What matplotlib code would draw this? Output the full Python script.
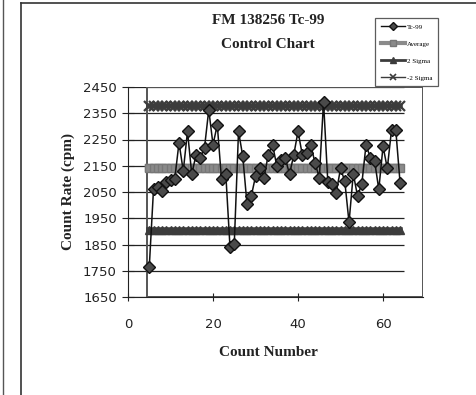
import numpy as np
import matplotlib
matplotlib.use("Agg")
import matplotlib.pyplot as plt
from matplotlib.lines import Line2D
from matplotlib.patches import Rectangle

# count numbers and count rates (cpm)
count_number = np.arange(5, 65)
count_rate = [1763, 2060, 2070, 2055, 2090, 2095, 2100, 2238, 2130, 2281,
              2117, 2192, 2180, 2219, 2363, 2230, 2306, 2098, 2120, 1839,
              1852, 2281, 2186, 2003, 2034, 2110, 2140, 2105, 2192, 2230,
              2150, 2173, 2180, 2117, 2192, 2281, 2192, 2200, 2230, 2160,
              2105, 2394, 2090, 2079, 2048, 2140, 2091, 1934, 2120, 2034,
              2080, 2230, 2181, 2170, 2060, 2224, 2140, 2287, 2286, 2086]

average = 2143
plus_2sigma = 2379
minus_2sigma = 1907

y_ticks = [1650, 1750, 1850, 1950, 2050, 2150, 2250, 2350, 2450]
x_ticks = [0, 20, 40, 60]
series_names = ["Tc-99", "Average", "2 Sigma", "-2 Sigma"]

serif = ["Liberation Serif", "DejaVu Serif"]

fig = plt.figure(figsize=(4.77, 3.95), dpi=100)
ax = fig.add_axes([128 / 477, 1 - 297 / 395, (423 - 128) / 477, (297 - 87) / 395])

ax.set_xlim(0, 69.4)
ax.set_ylim(1650, 2450)

# horizontal gridlines
ax.hlines(y_ticks, 0, 65, colors="#222222", linewidth=0.9, zorder=1)

# plot area frame (grey)
ax.add_patch(Rectangle((4.5, 1650), 69.4 - 4.5, 800, fill=False,
                       edgecolor="#555555", linewidth=1.4, zorder=1.5))

# control limits
ax.plot(count_number, np.full(len(count_number), average), color="#8a8a8a",
        linewidth=6, marker="s", markersize=6, markerfacecolor="#8a8a8a",
        markeredgecolor="#777777", zorder=2)
ax.plot(count_number, np.full(len(count_number), plus_2sigma), color="#3c3c3c",
        linewidth=4, marker="x", markersize=7, markeredgewidth=1.6,
        markeredgecolor="#3c3c3c", zorder=2)
ax.plot(count_number, np.full(len(count_number), minus_2sigma), color="#3c3c3c",
        linewidth=4, marker="^", markersize=6, markerfacecolor="#3c3c3c",
        markeredgecolor="#3c3c3c", zorder=2)

# data
ax.plot(count_number, count_rate, color="#111111", linewidth=1.1, marker="D",
        markersize=6, markerfacecolor="#4a4a4a", markeredgecolor="#111111",
        markeredgewidth=1.0, zorder=3)

for side in ["top", "right"]:
    ax.spines[side].set_visible(False)
ax.spines["left"].set_color("#222222")
ax.spines["bottom"].set_color("#222222")

ax.set_yticks(y_ticks)
ax.set_xticks(x_ticks)
ax.tick_params(axis="y", direction="inout", length=8, pad=4, labelsize=9.5, colors="#222222")
ax.tick_params(axis="x", direction="inout", length=6, pad=12, labelsize=9.5, colors="#222222")

fig.text(268 / 477, 1 - 20 / 395, "FM 138256 Tc-99", ha="center", va="center",
         fontsize=11, fontweight="bold", family=serif, color="#222222")
fig.text(268 / 477, 1 - 45 / 395, "Control Chart", ha="center", va="center",
         fontsize=11, fontweight="bold", family=serif, color="#222222")
fig.text(68 / 477, 1 - 192 / 395, "Count Rate (cpm)", ha="center", va="center",
         rotation=90, fontsize=11, fontweight="bold", family=serif, color="#222222")
fig.text(268 / 477, 1 - 352 / 395, "Count Number", ha="center", va="center",
         fontsize=11, fontweight="bold", family=serif, color="#222222")

# legend
handles = [
    Line2D([], [], color="#111111", linewidth=1.0, marker="D", markersize=4,
           markerfacecolor="#4a4a4a", markeredgecolor="#111111"),
    Line2D([], [], color="#8a8a8a", linewidth=3, marker="s", markersize=4,
           markerfacecolor="#8a8a8a", markeredgecolor="#777777"),
    Line2D([], [], color="#3c3c3c", linewidth=2, marker="^", markersize=4,
           markerfacecolor="#3c3c3c"),
    Line2D([], [], color="#3c3c3c", linewidth=1, marker="x", markersize=4,
           markeredgewidth=1.2),
]
leg = fig.legend(handles, series_names, loc="upper left",
                 bbox_to_anchor=(372 / 477, 1 - 15 / 395), frameon=True,
                 fancybox=False, edgecolor="#333333", fontsize=5,
                 prop={"family": serif, "size": 5}, handlelength=3.5,
                 labelspacing=1.6, borderpad=0.8, handletextpad=0.2)
leg.get_frame().set_linewidth(0.9)

# scan frame lines
fig.add_artist(Line2D([21 / 477, 21 / 477], [0, 1 - 3 / 395], color="#333333", linewidth=1.2))
fig.add_artist(Line2D([21 / 477, 1], [1 - 3 / 395, 1 - 3 / 395], color="#333333", linewidth=1.2))
fig.add_artist(Line2D([3 / 477, 3 / 477], [0, 1], color="#555555", linewidth=1.0))

fig.savefig("out.png", dpi=100)
